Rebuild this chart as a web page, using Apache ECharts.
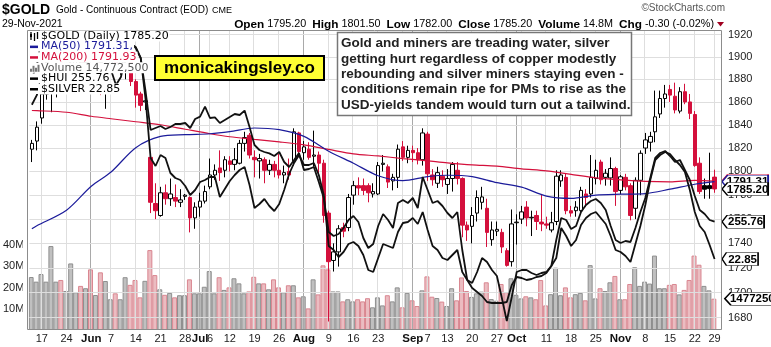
<!DOCTYPE html>
<html>
<head>
<meta charset="utf-8">
<title>$GOLD daily</title>
<script src="https://cdn.jsdelivr.net/npm/echarts/dist/echarts.min.js"></script>
<style>
html,body{margin:0;padding:0;background:#fff;}
#chart{width:771px;height:347px;}
</style>
</head>
<body>
<div id="chart"></div>
<script>
// Trading days, 13 May - 29 Nov 2021
const tradeDays = [
  '05-13','05-14','05-17','05-18','05-19','05-20','05-21','05-24','05-25','05-26','05-27','05-28',
  '06-01','06-02','06-03','06-04','06-07','06-08','06-09','06-10','06-11','06-14','06-15','06-16','06-17','06-18','06-21','06-22','06-23','06-24','06-25','06-28','06-29','06-30',
  '07-01','07-02','07-06','07-07','07-08','07-09','07-12','07-13','07-14','07-15','07-16','07-19','07-20','07-21','07-22','07-23','07-26','07-27','07-28','07-29','07-30',
  '08-02','08-03','08-04','08-05','08-06','08-09','08-10','08-11','08-12','08-13','08-16','08-17','08-18','08-19','08-20','08-23','08-24','08-25','08-26','08-27','08-30','08-31',
  '09-01','09-02','09-03','09-07','09-08','09-09','09-10','09-13','09-14','09-15','09-16','09-17','09-20','09-21','09-22','09-23','09-24','09-27','09-28','09-29','09-30',
  '10-01','10-04','10-05','10-06','10-07','10-08','10-11','10-12','10-13','10-14','10-15','10-18','10-19','10-20','10-21','10-22','10-25','10-26','10-27','10-28','10-29',
  '11-01','11-02','11-03','11-04','11-05','11-08','11-09','11-10','11-11','11-12','11-15','11-16','11-17','11-18','11-19','11-22','11-23','11-24','11-26','11-29'
];

const goldOpen = [
  1819,1826,1846,1867,1869,1870,1877,1878,1881,1898,1899,1895,
  1906,1903,1908,1872,1891,1898,1894,1896,1900,1878,1867,1860,1812,1773,1763,1782,1777,1778,1774,1779,1778,1761,
  1770,1775,1787,1797,1803,1801,1809,1806,1807,1824,1831,1812,1809,1810,1801,1806,1801,1797,1800,1809,1833,
  1816,1819,1813,1814,1807,1765,1726,1733,1753,1753,1780,1788,1788,1788,1781,1781,1806,1804,1792,1795,1821,1812,
  1818,1816,1810,1832,1797,1790,1796,1789,1794,1801,1794,1755,1754,1765,1774,1769,1743,1750,1749,1734,1725,
  1757,1760,1770,1761,1763,1757.5,1756,1751,1758,1792,1795,1767,1767,1767,1781,1781,1794,1808,1795,1794.5,1802.5,
  1784,1795,1788,1769,1792.5,1820,1825,1834,1849.5,1863,1871,1865,1852,1869,1860,1849,1807,1788,1788,1795.2
];
const goldHigh = [
  1827,1843,1870,1889,1891,1882,1890,1885,1900,1913,1906,1906,
  1916,1913,1910,1895,1902,1904,1900,1904,1903,1880,1869,1867,1816,1790,1787,1789,1794,1789,1785,1781,1779,1774,
  1782,1788,1811,1806,1818,1813,1813,1820,1827,1834,1833,1818,1815,1812,1810,1809,1815,1805,1811,1837,1834,
  1826,1825,1835,1817,1810,1767,1740,1755,1757,1781,1792,1795,1794,1790,1790,1808,1814,1806,1798,1823,1826,1822,
  1822,1820,1837,1834,1802,1804,1801,1802,1808,1808,1795,1758,1770,1784,1787,1777,1758,1758,1752,1736,1768,
  1764,1771,1775,1767,1767,1781,1762,1766,1801,1801,1798,1771,1775,1787,1785,1814,1810,1810,1802,1812,1804,
  1797,1798,1790,1795,1818,1833,1834,1870,1870,1875,1875,1877,1873,1876,1867,1852,1812,1794,1816,1801.5
];
const goldLow = [
  1808,1818,1841,1862,1851,1864,1869,1873,1877,1893,1888,1883,
  1898,1898,1866,1854,1886,1888,1884,1880,1874,1855,1852,1853,1765,1760,1762,1772,1771,1770,1770,1776,1749,1752,
  1762,1773,1785,1793,1792,1795,1800,1801,1806,1817,1811,1795,1794,1790,1797,1795,1794,1790,1793,1805,1812,
  1810,1810,1804,1797,1757,1677,1717,1721,1745,1750,1772,1780,1780,1774,1778,1780,1800,1786,1784,1786,1809,1807,
  1808,1806,1805,1792,1788,1786,1787,1781,1783,1789,1745,1742,1740,1758,1768,1737,1738,1746,1732,1721,1721,
  1739,1756,1754,1746,1751,1750,1752,1749,1755,1787,1764,1762,1762,1766,1770,1778,1789,1789,1788,1788,1771,
  1781,1784,1759,1760,1780,1815,1817,1825,1846,1855,1860,1850,1850,1858,1845,1804,1781,1777,1777,1782
];
const goldClose = [
  1824,1838,1867,1869,1870,1877,1876,1881,1898,1899,1895,1904,
  1903,1908,1873,1891,1898,1894,1896,1899,1878,1866,1857,1861,1774,1767,1782,1777,1781,1775,1776,1780,1761,1770,
  1775,1783,1797,1801,1799,1810,1806,1810,1824,1829,1814,1810,1811,1801,1806,1801,1797,1799,1797,1834,1817,
  1821,1812,1814,1807,1763,1725,1733,1752,1750,1778,1788,1786,1784,1782,1783,1805,1807,1791,1795,1819,1812,1818,
  1816,1810,1833,1798,1793,1799,1793,1794,1806,1794,1755,1751,1763,1778,1778.5,1749,1751,1751.5,1737,1722,1756,
  1757.5,1766,1761,1761.5,1758,1756,1755,1757,1796,1797,1767,1765,1770,1784,1778,1795,1801,1793,1798.5,1802.5,1783,
  1795.5,1787,1763,1792.5,1815.5,1827,1830,1847,1863,1867,1866,1853,1869,1860,1850,1805,1783,1785.0,1785.5,1785.2
];
// daily volume, millions of contracts
const volumeM = [
  25.0,22.8,26.4,22.8,39.6,22.8,23.6,18.4,31.4,17.8,20.8,19.7,
  28.6,16.5,27.2,23.1,14.5,17.3,14.5,24.9,21.3,23.6,15.4,23.2,37.7,25.9,19.2,16.6,17.5,15.4,16.4,16.4,23.9,17.3,
  17.3,20.4,27.8,17.3,24.9,18.9,20.1,24.4,22.0,17.3,18.2,25.1,22.0,22.0,19.2,23.9,20.1,17.8,21.1,21.1,15.4,
  15.9,10.2,23.9,16.8,30.5,28.6,18.2,18.2,13.5,14.5,13.5,14.5,13.5,15.0,10.7,15.4,11.6,16.4,13.5,20.1,10.7,17.5,
  14.0,11.3,18.7,25.3,15.7,15.1,13.4,11.3,19.7,14.0,24.8,18.4,15.6,17.3,18.1,22.5,14.6,13.8,21.7,17.9,24.4,
  16.6,14.9,15.9,15.4,14.5,23.6,11.6,16.9,29.4,16.4,20.1,15.4,16.9,17.5,14.0,30.6,14.9,19.7,18.4,22.5,25.5,
  14.5,14.5,21.7,29.6,20.8,22.8,21.9,35.1,19.7,19.7,21.3,21.7,16.8,18.9,23.6,35.1,30.8,20.8,18.7,14.7725
];
const hui = [
  285.0,287.4,292.4,296.2,293.7,294.9,292.4,293.7,296.2,297.4,294.9,296.2,
  296.2,297.4,291.2,294.9,293.7,289.94,291.94,297.44,300.19,299.44,296.69,286.19,271.69,269.69,272.44,271.69,267.94,266.69,266.19,264.69,262.44,263.69,
  265.69,266.19,266.94,266.94,261.94,263.94,265.94,267.44,268.69,269.44,264.94,259.19,260.19,261.44,259.69,258.44,260.19,263.69,267.69,270.44,272.44,
  269.94,269.94,270.44,267.44,262.44,249.69,248.69,246.94,248.19,250.19,250.69,249.69,247.44,243.69,243.19,246.69,250.19,249.69,249.19,253.19,255.44,255.69,
  256.69,255.19,258.19,253.69,249.69,248.69,246.69,246.19,247.44,248.69,243.19,241.19,239.19,238.19,237.19,235.69,235.44,235.44,235.44,235.69,239.94,
  241.94,241.69,241.19,241.44,241.94,242.19,242.94,244.69,251.19,256.69,256.19,253.94,254.69,258.19,259.94,260.94,261.44,260.44,258.69,254.69,251.19,
  250.44,250.94,250.69,254.19,258.19,261.69,266.69,271.69,272.94,273.44,272.19,270.69,271.19,268.69,266.19,262.19,258.69,257.69,256.19,255.76
];
const silver = [
  27.375,27.675,28.425,28.50,28.15,28.075,27.775,28.15,28.125,28.075,28.15,28.125,
  28.425,28.225,27.675,28.15,28.15,27.975,27.90,28.15,28.25,28.125,27.875,27.025,26.075,26.125,26.175,26.10,26.15,26.225,26.225,26.25,26.125,26.35,
  26.41,26.66,26.375,26.39,26.25,26.325,26.40,26.475,26.45,26.56,26.15,25.70,25.575,25.525,25.49,25.425,25.525,25.275,25.15,25.325,25.50,
  25.075,25.10,25.15,24.775,24.375,23.525,23.425,23.475,23.625,23.825,23.925,23.775,23.375,23.125,23.225,23.675,23.975,23.825,23.625,24.25,24.325,24.25,
  24.375,24.125,24.90,24.575,24.25,24.30,24.175,24.00,23.875,24.025,23.075,22.325,22.25,22.525,22.875,22.775,22.575,22.425,21.875,21.30,21.90,
  22.525,22.575,22.575,22.50,22.45,22.50,22.525,22.675,22.875,23.625,23.425,23.175,23.325,23.70,23.875,23.975,24.025,23.875,23.725,23.425,23.075,
  23.025,22.925,22.775,23.225,23.675,24.20,24.825,25.325,25.45,25.525,25.475,25.325,25.20,25.025,24.575,24.025,23.675,23.525,23.20,22.85
];
// moving averages, weekly readings
const ma50Points = [
  ['05-13',1752.0],['05-14',1754.5],['05-24',1767.4],['06-01',1787.5],['06-07',1799.5],['06-14',1820.3],['06-21',1830.0],
  ['06-28',1831.5],['07-06',1832.3],['07-12',1834.1],['07-19',1837.3],['07-26',1835.8],['08-02',1830.0],['08-09',1817.3],
  ['08-16',1807.0],['08-23',1796.4],['08-30',1792.2],['09-07',1795.6],['09-13',1796.8],['09-20',1795.6],['09-27',1790.5],
  ['10-04',1786.7],['10-11',1779.2],['10-18',1777.3],['10-25',1780.0],['11-01',1780.8],['11-08',1781.3],['11-15',1785.0],
  ['11-22',1789.2],['11-29',1791.31]
];
const ma200Points = [
  ['05-13',1852.5],['05-14',1852.4],['05-24',1851.0],['06-01',1847.5],['06-07',1845.3],['06-14',1842.7],['06-21',1840.1],
  ['06-28',1836.2],['07-06',1832.3],['07-12',1829.7],['07-19',1827.5],['07-26',1825.3],['08-02',1822.7],['08-09',1818.8],
  ['08-16',1815.0],['08-23',1813.2],['08-30',1811.0],['09-07',1809.0],['09-13',1807.3],['09-20',1805.6],['09-27',1804.5],
  ['10-04',1802.2],['10-11',1800.5],['10-18',1797.5],['10-25',1794.6],['11-01',1792.9],['11-08',1791.6],['11-15',1791.2],
  ['11-22',1792.5],['11-29',1791.93]
];

const priceTicks = [1680,1700,1720,1740,1760,1780,1800,1820,1840,1860,1880,1900,1920];
const tickDates = ['05-17','05-24','06-01','06-07','06-14','06-21','06-28','07-01','07-06','07-12','07-19','07-26',
  '08-02','08-09','08-16','08-23','09-01','09-07','09-13','09-20','09-27','10-01','10-11','10-18','10-25',
  '11-01','11-08','11-15','11-22','11-29'];
const tickTexts = ['17','24','Jun','7','14','21','28','Jul','6','12','19','26',
  'Aug','9','16','23','Sep','7','13','20','27','Oct','11','18','25',
  'Nov','8','15','22','29'];
const weekStarts = ['05-17','05-24','06-01','06-07','06-14','06-21','06-28','07-06','07-12','07-19','07-26',
  '08-02','08-09','08-16','08-23','08-30','09-07','09-13','09-20','09-27','10-04','10-11','10-18','10-25',
  '11-01','11-08','11-15','11-22','11-29'];
const monthStarts = ['06-01','07-01','08-02','09-01','10-01','11-01'];

const noteLines = [
  'Gold and miners are treading water, silver',
  'getting hurt regardless of copper modestly',
  'rebounding and silver miners staying even -',
  'conditions remain ripe for PMs to rise as the',
  'USD-yields tandem would turn out a tailwind.'
];

// ---------------------------------------------------------------
const RED = '#d4103c', BLACK = '#000', BLUE = '#1b1b9a';
const SANS = '"Liberation Sans", Arial, sans-serif';
const DJ = '"DejaVu Sans", Verdana, sans-serif';
const last = tradeDays.length - 1;
const lastDay = tradeDays[last];

const candleData = tradeDays.map((d, i) => {
  const o = goldOpen[i], c = goldClose[i];
  const prev = i > 0 ? goldClose[i - 1] : c;
  const stroke = c < prev ? RED : BLACK;
  const fill = c < o ? stroke : '#fff';
  return {
    value: [o, c, goldLow[i], goldHigh[i]],
    itemStyle: { color: fill, color0: fill, borderColor: stroke, borderColor0: stroke, borderWidth: 1 }
  };
});
const volumeData = volumeM.map((v, i) => {
  const down = i > 0 && goldClose[i] < goldClose[i - 1];
  return {
    value: v,
    itemStyle: { color: down ? '#ebbcc1' : '#c0c0c0', borderColor: down ? '#d98690' : '#8e8e8e', borderWidth: 1 }
  };
});

const tagPath = 'path://M0,6L6,0H50V12H6Z';
const NOV29_X_TO_EDGE = 7.5; // from last bar centre to the right frame edge
function tag(coordVal, text, border, width, z) {
  return {
    z: z, silent: true, animation: false,
    symbol: tagPath, symbolSize: [width, 13], symbolKeepAspect: false,
    symbolOffset: [NOV29_X_TO_EDGE + width / 2, 0],
    itemStyle: { color: '#fff', borderColor: border, borderWidth: 1 },
    label: { show: true, position: 'inside', offset: [2.5, 0.5], color: '#000', fontWeight: 'bold',
      fontSize: 11.5, fontFamily: SANS, formatter: () => text },
    data: [{ coord: [lastDay, coordVal] }]
  };
}

const gridLines = [];
weekStarts.forEach(d => gridLines.push({ xAxis: d, lineStyle: { color: '#dedede', width: 1, type: 'solid' } }));
monthStarts.forEach(d => gridLines.push({ xAxis: d, lineStyle: { color: '#a9a9a9', width: 1, type: 'solid' } }));

const chart = echarts.init(document.getElementById('chart'), null, { renderer: 'canvas' });

// legend rows drawn over the top-left of the plot
const legendRows = [
  { text: '$GOLD (Daily) ' + goldClose[last].toFixed(2), color: '#000', icon: 'ohlc' },
  { text: 'MA(50) ' + ma50Points[ma50Points.length - 1][1].toFixed(2) + ',', color: BLUE, icon: 'line', iconColor: BLUE },
  { text: 'MA(200) ' + ma200Points[ma200Points.length - 1][1].toFixed(2), color: RED, icon: 'line', iconColor: RED },
  { text: 'Volume ' + Math.round(volumeM[last] * 1e6).toLocaleString('en-US'), color: '#555', icon: 'vol' },
  { text: '$HUI ' + hui[last].toFixed(2), color: '#000', icon: 'line', iconColor: '#000' },
  { text: '$SILVER ' + silver[last].toFixed(2), color: '#000', icon: 'line', iconColor: '#000' }
];
const graphics = [];
// clip the partly visible first bar at the frame
graphics.push({ type: 'rect', z: 50, silent: true, shape: { x: 22.8, y: 30, width: 5, height: 301 }, style: { fill: '#fff' } });
// frame
graphics.push({ type: 'rect', z: 60, silent: true, shape: { x: 27.5, y: 30.5, width: 694, height: 299 },
  style: { fill: 'none', stroke: '#8c8c8c', lineWidth: 1 } });

legendRows.forEach((r, k) => {
  const y = 36 + k * 10.6;
  graphics.push({ type: 'text', z: 100, silent: true, x: 40, y: y,
    style: { text: r.text, font: '11px ' + DJ, fill: r.color, verticalAlign: 'middle',
      backgroundColor: '#fff', padding: [0, 1, 0, 1] } });
  graphics.push({ type: 'rect', z: 100, silent: true, shape: { x: 29, y: y - 5, width: 11, height: 10 }, style: { fill: '#fff' } });
  if (r.icon === 'line') {
    graphics.push({ type: 'rect', z: 101, silent: true, shape: { x: 30, y: y - 1, width: 8, height: 2.5 }, style: { fill: r.iconColor } });
  } else if (r.icon === 'vol') {
    [[30, 3], [32.5, 6], [35, 4], [37.5, 7]].forEach(b => graphics.push({ type: 'rect', z: 101, silent: true,
      shape: { x: b[0], y: y + 4 - b[1], width: 2, height: b[1] }, style: { fill: '#777' } }));
  } else {
    [[31, -4, 4], [34.5, -3, 5], [37.5, -4, 3]].forEach(b => graphics.push({ type: 'line', z: 101, silent: true,
      shape: { x1: b[0], y1: y + b[1], x2: b[0], y2: y + b[2] }, style: { stroke: '#000', lineWidth: 1.3 } }));
    graphics.push({ type: 'rect', z: 101, silent: true, shape: { x: 30, y: y - 2, width: 2, height: 3 }, style: { fill: '#000' } });
  }
});

// watermark box
graphics.push({ type: 'rect', z: 100, silent: true, shape: { x: 155, y: 56, width: 169, height: 24 },
  style: { fill: '#ffff33', stroke: '#000', lineWidth: 2 } });
graphics.push({ type: 'text', z: 101, silent: true, x: 239.5, y: 68.5,
  style: { text: 'monicakingsley.co', font: 'bold 17px ' + SANS, fill: '#000', align: 'center', verticalAlign: 'middle' } });

// commentary box
graphics.push({ type: 'rect', z: 100, silent: true, shape: { x: 337.5, y: 32.5, width: 294, height: 83 },
  style: { fill: '#fff', stroke: '#777', lineWidth: 1.5 } });
noteLines.forEach((t, k) => graphics.push({ type: 'text', z: 101, silent: true, x: 341, y: 43.5 + k * 15.4,
  style: { text: t, font: 'bold 13.5px ' + SANS, fill: '#222', verticalAlign: 'middle' } }));

// header
graphics.push({ type: 'text', z: 100, silent: true, x: 2, y: 10,
  style: { text: '$GOLD', font: 'bold 14px ' + SANS, fill: '#000', verticalAlign: 'middle' } });
graphics.push({ type: 'text', z: 100, silent: true, x: 56, y: 10.5,
  style: { text: 'Gold - Continuous Contract (EOD)', font: '10px ' + SANS, fill: '#000', verticalAlign: 'middle' } });
graphics.push({ type: 'text', z: 100, silent: true, x: 212, y: 11,
  style: { text: 'CME', font: '9px ' + SANS, fill: '#000', verticalAlign: 'middle' } });
graphics.push({ type: 'text', z: 100, silent: true, x: 2, y: 24.5,
  style: { text: '29-Nov-2021', font: '10.5px ' + SANS, fill: '#000', verticalAlign: 'middle' } });
const chg = goldClose[last] - goldClose[last - 1];
graphics.push({ type: 'text', z: 100, silent: true, x: 714, y: 24.5,
  style: {
    text: '{b|Open} ' + goldOpen[last].toFixed(2) + '  {b|High} ' + goldHigh[last].toFixed(2) +
      '  {b|Low} ' + goldLow[last].toFixed(2) + '  {b|Close} ' + goldClose[last].toFixed(2) +
      '  {b|Volume} ' + volumeM[last].toFixed(1) + 'M  {b|Chg} ' + chg.toFixed(2) +
      ' (' + (chg / goldClose[last - 1] * 100).toFixed(2) + '%)',
    font: '10.8px ' + SANS, fill: '#000', align: 'right', verticalAlign: 'middle',
    rich: { b: { fontWeight: 'bold', fontSize: 11.8, fontFamily: SANS, fill: '#000' } }
  } });
graphics.push({ type: 'polygon', z: 100, silent: true, shape: { points: [[717, 22], [724, 22], [720.5, 26.5]] }, style: { fill: '#a00020' } });
graphics.push({ type: 'text', z: 100, silent: true, x: 725, y: 8.5,
  style: { text: '\u00A9StockCharts.com', font: '10px ' + SANS, fill: '#555', align: 'right', verticalAlign: 'middle' } });

const option = {
  animation: false,
  backgroundColor: '#fff',
  grid: { left: 23.6, right: 49, top: 31, bottom: 17, containLabel: false },
  xAxis: {
    type: 'category', data: tradeDays.concat(['']), boundaryGap: true,
    axisLine: { show: false }, axisTick: { show: false }, splitLine: { show: false },
    axisLabel: {
      interval: (idx, val) => tickDates.indexOf(val) >= 0,
      formatter: (val) => {
        const k = tickDates.indexOf(val);
        if (k < 0) return '';
        const t = tickTexts[k];
        return /^[A-Z]/.test(t) ? '{m|' + t + '}' : t;
      },
      color: '#222', fontSize: 11, fontFamily: SANS, margin: 3,
      rich: { m: { fontWeight: 'bold', fontSize: 11.5, fontFamily: SANS, color: '#111' } }
    }
  },
  yAxis: [
    { type: 'log', logBase: 10, min: 1670.3, max: 1923.3, show: false, scale: true },
    { type: 'value', min: 0, max: 141.04, interval: 10, position: 'left',
      axisLine: { show: false }, axisTick: { show: false }, splitLine: { show: false },
      axisLabel: { formatter: v => (v > 0 && v <= 40) ? v + 'M' : '', color: '#222', fontSize: 11, fontFamily: SANS, margin: 5 } },
    { type: 'value', min: 228.69, max: 303.44, show: false },
    { type: 'value', min: 21.075, max: 28.55, show: false }
  ],
  series: [
    {
      name: 'Volume', type: 'bar', xAxisIndex: 0, yAxisIndex: 1, data: volumeData, barWidth: 5, z: 1,
      markLine: { z: 1.5, silent: true, symbol: ['none', 'none'], label: { show: false }, animation: false, data: gridLines }
    },
    {
      name: '$GOLD', type: 'candlestick', xAxisIndex: 0, yAxisIndex: 0, data: candleData, barWidth: 4, z: 3,
      markLine: {
        z: 1.5, silent: true, symbol: ['none', 'none'], animation: false,
        lineStyle: { color: '#dedede', width: 1, type: 'solid' },
        label: { show: true, position: 'end', distance: 6, formatter: p => String(p.value), color: '#222', fontSize: 11, fontFamily: SANS },
        data: priceTicks.map(v => ({ yAxis: v }))
      },
      markPoint: tag(goldClose[last], goldClose[last].toFixed(2), '#000', 46, 12)
    },
    {
      name: 'MA(200)', type: 'line', yAxisIndex: 0, data: ma200Points, smooth: 0.3, symbol: 'none', z: 4,
      lineStyle: { color: RED, width: 1.2 },
      markPoint: tag(ma200Points[ma200Points.length - 1][1], ma200Points[ma200Points.length - 1][1].toFixed(2), RED, 46, 10)
    },
    {
      name: 'MA(50)', type: 'line', yAxisIndex: 0, data: ma50Points, smooth: 0.3, symbol: 'none', z: 4,
      lineStyle: { color: BLUE, width: 1.2 },
      markPoint: tag(ma50Points[ma50Points.length - 1][1], ma50Points[ma50Points.length - 1][1].toFixed(2), BLUE, 46, 11)
    },
    {
      name: '$HUI', type: 'line', yAxisIndex: 2, data: hui, symbol: 'none', z: 5,
      lineStyle: { color: '#111', width: 1.8 },
      markPoint: tag(hui[last], hui[last].toFixed(2), '#000', 42, 12)
    },
    {
      name: '$SILVER', type: 'line', yAxisIndex: 3, data: silver, symbol: 'none', z: 5,
      lineStyle: { color: '#111', width: 1.8 },
      markPoint: tag(silver[last], silver[last].toFixed(2), '#000', 36, 12)
    },
    {
      name: 'VolumeTag', type: 'bar', yAxisIndex: 1, data: [], z: 1,
      markPoint: tag(volumeM[last], String(Math.round(volumeM[last] * 1e5)), '#000', 50, 12)
    }
  ],
  graphic: graphics
};
chart.setOption(option);
</script>
</body>
</html>
